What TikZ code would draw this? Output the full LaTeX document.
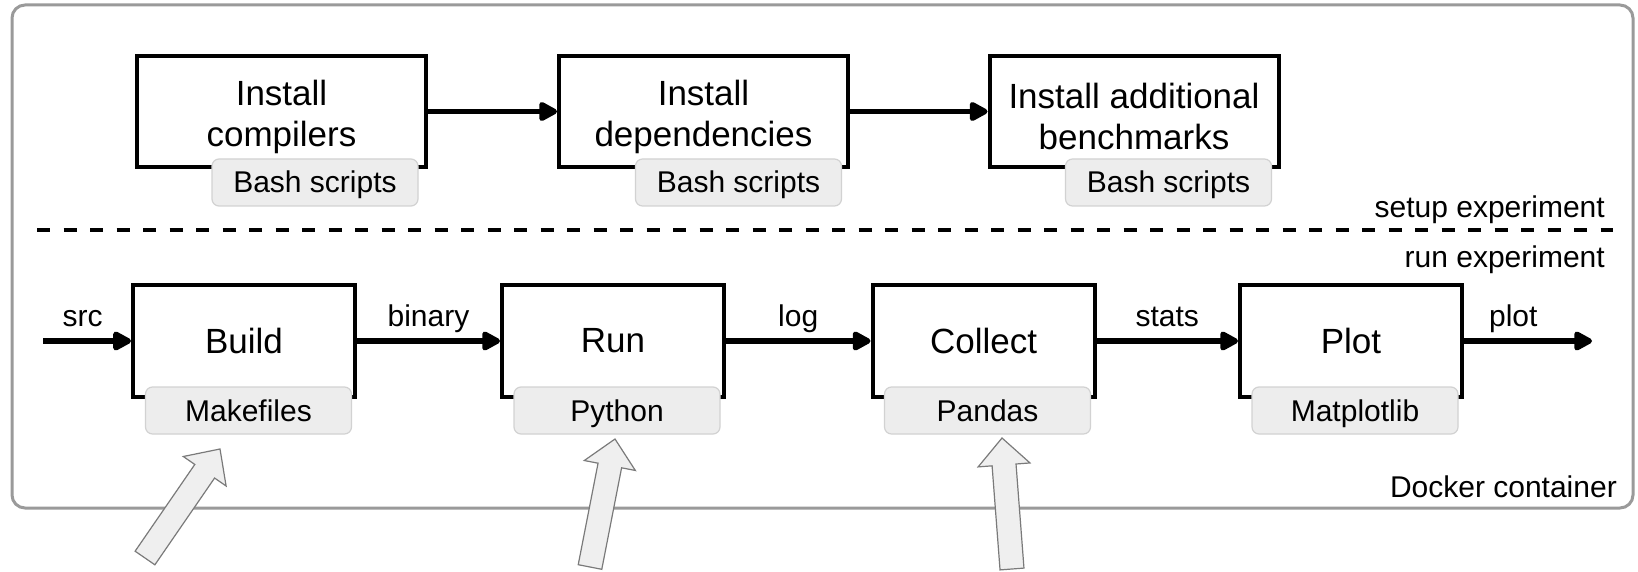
\documentclass[tikz,border=0pt]{standalone}
\usepackage{fontspec}
\setmainfont{Liberation Sans}
\usetikzlibrary{arrows.meta,calc}
\definecolor{tagfill}{HTML}{EDEDED}
\definecolor{tagdraw}{HTML}{D2D2D2}
\definecolor{contdraw}{HTML}{9A9A9A}
\definecolor{bafill}{HTML}{EFEFEF}
\definecolor{badraw}{HTML}{7A7A7A}
\newcommand{\myblockarrow}[2]{%
  \coordinate (#1n) at ($(#2)!27pt!(#1)$);
  \draw[blockarr] ($(#1)!12pt!90:(#2)$) -- ($(#1n)!12pt!90:(#2)$) -- ($(#1n)!26pt!90:(#2)$) -- (#2)
    -- ($(#1n)!26pt!-90:(#2)$) -- ($(#1n)!12pt!-90:(#2)$) -- ($(#1)!12pt!-90:(#2)$) -- cycle;}
\begin{document}
\begin{tikzpicture}[x=1pt,y=-1pt,
  stagebox/.style={draw=black, line width=4pt, minimum width=289pt, minimum height=111pt, inner sep=0pt},
  stagetext/.style={inner sep=0pt, align=center, font=\fontsize{35}{41}\selectfont, yshift=-5pt},
  bstagebox/.style={draw=black, line width=4pt, minimum width=222pt, minimum height=112pt, inner sep=0pt, font=\fontsize{35}{41}\selectfont},
  tagbox/.style={draw=tagdraw, fill=tagfill, line width=1.2pt, rounded corners=7pt, minimum width=206pt, minimum height=47pt, inner sep=0pt, font=\fontsize{30}{32}\selectfont, text height=21pt, text depth=0pt},
  flow/.style={line width=5.7pt, -{Triangle[length=21pt,width=21pt,round]}},
  lbl/.style={font=\fontsize{30}{32}\selectfont, anchor=base, yshift=15pt, inner sep=0pt},
  sidenote/.style={font=\fontsize{30}{32}\selectfont, anchor=base east, inner sep=0pt},
  blockarr/.style={draw=badraw, fill=bafill, line width=1.2pt, line join=miter},
]
\useasboundingbox (0,0) rectangle (1638,572);
% container
\node[draw=contdraw, line width=3pt, rounded corners=13pt, minimum width=1621pt, minimum height=503pt, inner sep=0pt] (docker) at (822.5,256.5) {};
% separator
\coordinate (sepL) at (37,230);
\coordinate (sepR) at (1613,230);
\draw[line width=4pt, dash pattern=on 13pt off 13.5pt] (sepL) -- (sepR);
\node[sidenote] (setup) at (1605,218) {setup experiment};
\node[sidenote] (runexp) at (1605,267) {run experiment};
\node[sidenote] (dock) at (1617,497) {Docker container};
% setup stages
\node[stagebox] (ic) at (281.5,111.5) {};
\node[stagebox] (id) at (703.5,111.5) {};
\node[stagebox] (ib) at (1134,111.5) {};
\node[stagetext] (ictext) at (ic.center) {Install\\compilers};
\node[stagetext] (idtext) at (id.center) {Install\\dependencies};
\node[stagetext] (ibtext) at (ib.center) {Install additional\\benchmarks};
\node[tagbox] (t1) at (315,182.5) {Bash scripts};
\node[tagbox] (t2) at (738.5,182.5) {Bash scripts};
\node[tagbox] (t3) at (1168.5,182.5) {Bash scripts};
\draw[flow] (ic.east) -- (id.west);
\draw[flow] (id.east) -- (ib.west);
% run stages
\node[bstagebox] (build) at (244,341) {Build};
\node[bstagebox] (run) at (613,341) {Run};
\node[bstagebox] (collect) at (983.5,341) {Collect};
\node[bstagebox] (plot) at (1351,341) {Plot};
\node[tagbox] (make) at (248.5,410.5) {Makefiles};
\node[tagbox] (py) at (617,410.5) {Python};
\node[tagbox] (pd) at (987.5,410.5) {Pandas};
\node[tagbox] (mpl) at (1355,410.5) {Matplotlib};
\coordinate (in) at (43,341);
\coordinate (out) at (1592,341);
\draw[flow] (in) -- node[lbl, pos=0.45] {src} (build.west);
\draw[flow] (build.east) -- node[lbl] {binary} (run.west);
\draw[flow] (run.east) -- node[lbl] {log} (collect.west);
\draw[flow] (collect.east) -- node[lbl] {stats} (plot.west);
\draw[flow] (plot.east) -- node[lbl, pos=0.385] {plot} (out);
% block arrows
\coordinate (ta) at (145,558);
\coordinate (pa) at (220,449);
\coordinate (tb) at (590,567);
\coordinate (pb) at (615,439);
\coordinate (tc) at (1012,569);
\coordinate (pc) at (1002,438);
\myblockarrow{ta}{pa}
\myblockarrow{tb}{pb}
\myblockarrow{tc}{pc}
\end{tikzpicture}
\end{document}
